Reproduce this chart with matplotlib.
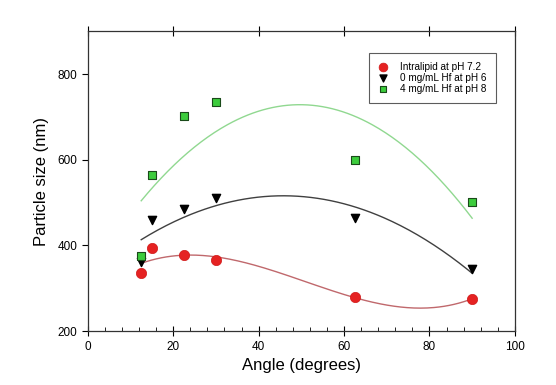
import numpy as np
import matplotlib
matplotlib.use("Agg")
import matplotlib.pyplot as plt
from matplotlib.ticker import MultipleLocator

plt.rcParams['font.family'] = ['Liberation Sans', 'DejaVu Sans']

angles = [12.5, 15, 22.5, 30, 62.5, 90]
intralipid = [335, 395, 378, 365, 280, 275]
hf0_ph6 = [362, 460, 485, 510, 463, 345]
hf4_ph8 = [376, 565, 701, 735, 599, 501]

labels = ["Intralipid at pH 7.2", "0 mg/mL Hf at pH 6", "4 mg/mL Hf at pH 8"]

fig = plt.figure(figsize=(5.56, 3.85), dpi=100)
ax = fig.add_axes([0.158, 0.140, 0.768, 0.779])

xs = np.linspace(12.5, 90, 200)
fit_r = np.polyval(np.polyfit(angles, intralipid, 3), xs)
fit_k = np.polyval(np.polyfit(angles, hf0_ph6, 2), xs)
fit_g = np.polyval(np.polyfit(angles, hf4_ph8, 2), xs)
ax.plot(xs, fit_r, color='#c0686c', lw=1.0)
ax.plot(xs, fit_k, color='#404040', lw=1.0)
ax.plot(xs, fit_g, color='#90d890', lw=1.0)

ax.scatter(angles, intralipid, marker='o', s=55, color='#e52222', edgecolor='#d01818', lw=0.5, zorder=3, label=labels[0])
ax.scatter(angles, hf0_ph6, marker='v', s=35, color='black', zorder=3, label=labels[1])
ax.scatter(angles, hf4_ph8, marker='s', s=32, color='#3ccc3c', edgecolor='#1a4a1a', lw=0.8, zorder=3, label=labels[2])

ax.set_xlim(0, 100)
ax.set_ylim(200, 900)
ax.set_xticks([0, 20, 40, 60, 80, 100])
ax.set_yticks([200, 400, 600, 800])
ax.xaxis.set_minor_locator(MultipleLocator(4))
ax.tick_params(axis='x', which='major', direction='inout', length=7, width=0.8, labelsize=8.5, top=True)
ax.tick_params(axis='x', which='minor', direction='in', length=3, width=0.6, top=False)
ax.tick_params(axis='y', which='major', direction='out', length=4, width=0.8, labelsize=8.5, right=False)
for s in ax.spines.values():
    s.set_linewidth(0.9)
    s.set_color('#333333')

ax.set_xlabel("Angle (degrees)", fontsize=12, labelpad=4)
ax.set_ylabel("Particle size (nm)", fontsize=12, labelpad=6)

leg = ax.legend(loc='upper right', bbox_to_anchor=(0.955, 0.927), borderaxespad=0, fontsize=7.2,
                frameon=True, fancybox=False, edgecolor='#333333', handletextpad=1.2, borderpad=0.9,
                labelspacing=0.1, handlelength=1.0, markerscale=0.85)
leg.get_frame().set_linewidth(0.8)

fig.savefig("out.png", dpi=100)
